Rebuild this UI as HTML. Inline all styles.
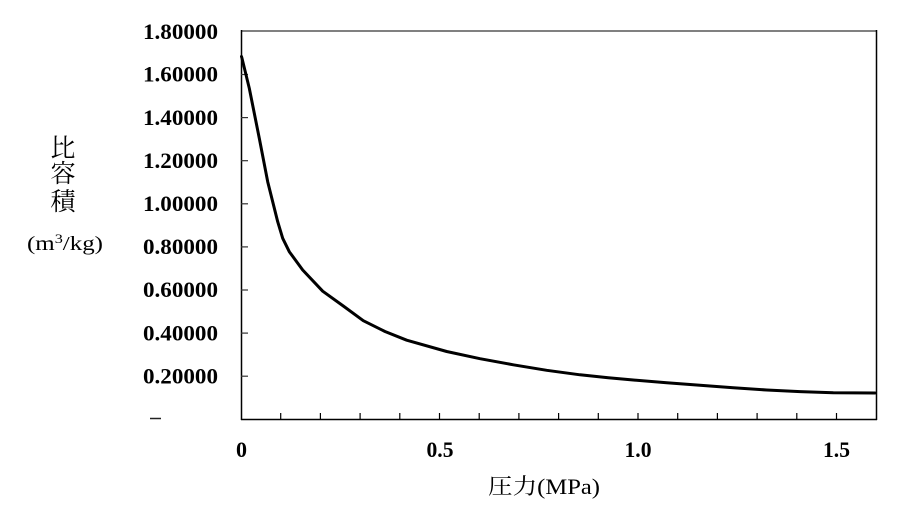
<!DOCTYPE html>
<html>
<head>
<meta charset="utf-8">
<style>
  html,body{margin:0;padding:0;background:#fff;}
  svg{display:block;}
  .tk{font-family:"Liberation Serif","Noto Serif CJK JP",serif;font-weight:bold;font-size:22px;fill:#000;}
  .cj{font-family:"Liberation Serif","Noto Serif CJK JP","Noto Serif CJK SC",serif;fill:#000;}
</style>
</head>
<body>
<svg width="898" height="519" viewBox="0 0 898 519" xmlns="http://www.w3.org/2000/svg">
  <rect x="0" y="0" width="898" height="519" fill="#fff"/>

  <!-- frame -->
  <line x1="241" y1="31" x2="877" y2="31" stroke="#808080" stroke-width="2"/>
  <line x1="876.5" y1="30" x2="876.5" y2="420" stroke="#000" stroke-width="1.5"/>
  <line x1="241.5" y1="30" x2="241.5" y2="420" stroke="#000" stroke-width="1.5"/>
  <line x1="241" y1="419.5" x2="877" y2="419.5" stroke="#000" stroke-width="1.5"/>

  <!-- y ticks -->
  <g stroke="#333" stroke-width="1.2">
    <line x1="241" y1="376.2" x2="248" y2="376.2"/>
    <line x1="241" y1="333.1" x2="248" y2="333.1"/>
    <line x1="241" y1="290.0" x2="248" y2="290.0"/>
    <line x1="241" y1="246.9" x2="248" y2="246.9"/>
    <line x1="241" y1="203.8" x2="248" y2="203.8"/>
    <line x1="241" y1="160.7" x2="248" y2="160.7"/>
    <line x1="241" y1="117.6" x2="248" y2="117.6"/>
    <line x1="241" y1="74.5" x2="248" y2="74.5"/>
  </g>

  <!-- x ticks -->
  <g stroke="#000" stroke-width="1.2">
    <line x1="280.7" y1="413" x2="280.7" y2="419"/>
    <line x1="320.4" y1="413" x2="320.4" y2="419"/>
    <line x1="360.1" y1="413" x2="360.1" y2="419"/>
    <line x1="399.8" y1="413" x2="399.8" y2="419"/>
    <line x1="439.5" y1="413" x2="439.5" y2="419"/>
    <line x1="479.2" y1="413" x2="479.2" y2="419"/>
    <line x1="518.9" y1="413" x2="518.9" y2="419"/>
    <line x1="558.6" y1="413" x2="558.6" y2="419"/>
    <line x1="598.3" y1="413" x2="598.3" y2="419"/>
    <line x1="638.0" y1="413" x2="638.0" y2="419"/>
    <line x1="677.7" y1="413" x2="677.7" y2="419"/>
    <line x1="717.4" y1="413" x2="717.4" y2="419"/>
    <line x1="757.1" y1="413" x2="757.1" y2="419"/>
    <line x1="796.8" y1="413" x2="796.8" y2="419"/>
    <line x1="836.5" y1="413" x2="836.5" y2="419"/>
  </g>

  <!-- curve -->
  <polyline fill="none" stroke="#000" stroke-width="3" stroke-linejoin="round" stroke-linecap="round"
    points="241.5,56.5 242,58.3 249.3,88.3 259.3,138.3 267.7,181.7 277.7,221.7 282.7,238.3 289.3,251.7 302.7,270 322.7,291.2 343.3,306 363.3,320.7 385,331.5 406.7,340.2 446.7,351.5 480,358.7 513.3,364.8 546.7,370.3 580,374.8 608.3,377.8 633.3,380 666.7,382.7 700,385.3 733.3,387.8 766.7,390 800,391.6 833.3,392.7 875,393"/>

  <!-- y tick labels -->
  <g class="tk" text-anchor="end">
    <text x="218" y="39" textLength="75" lengthAdjust="spacingAndGlyphs">1.80000</text>
    <text x="218" y="81.7" textLength="75" lengthAdjust="spacingAndGlyphs">1.60000</text>
    <text x="218" y="124.8" textLength="75" lengthAdjust="spacingAndGlyphs">1.40000</text>
    <text x="218" y="167.9" textLength="75" lengthAdjust="spacingAndGlyphs">1.20000</text>
    <text x="218" y="211" textLength="75" lengthAdjust="spacingAndGlyphs">1.00000</text>
    <text x="218" y="254.1" textLength="75" lengthAdjust="spacingAndGlyphs">0.80000</text>
    <text x="218" y="297.2" textLength="75" lengthAdjust="spacingAndGlyphs">0.60000</text>
    <text x="218" y="340.3" textLength="75" lengthAdjust="spacingAndGlyphs">0.40000</text>
    <text x="218" y="383.4" textLength="75" lengthAdjust="spacingAndGlyphs">0.20000</text>
  </g>
  <line x1="150" y1="418.5" x2="161" y2="418.5" stroke="#222" stroke-width="1.5"/>

  <!-- x tick labels -->
  <g class="tk" text-anchor="middle">
    <text x="241.5" y="457">0</text>
    <text x="440" y="457" textLength="27" lengthAdjust="spacingAndGlyphs">0.5</text>
    <text x="638" y="457" textLength="27" lengthAdjust="spacingAndGlyphs">1.0</text>
    <text x="836.5" y="457" textLength="27" lengthAdjust="spacingAndGlyphs">1.5</text>
  </g>

  <!-- x title -->
  <text class="cj" x="488" y="494" font-size="22" textLength="112" lengthAdjust="spacingAndGlyphs">圧力(MPa)</text>

  <!-- y title -->
  <g class="cj" font-size="25" text-anchor="middle">
    <text x="63" y="156.5">比</text>
    <text x="63" y="182">容</text>
    <text x="63" y="210">積</text>
  </g>
  <text class="cj" x="27" y="250" font-size="20" textLength="76" lengthAdjust="spacingAndGlyphs">(m<tspan font-size="13" dy="-7">3</tspan><tspan dy="7">/kg)</tspan></text>
</svg>
</body>
</html>
